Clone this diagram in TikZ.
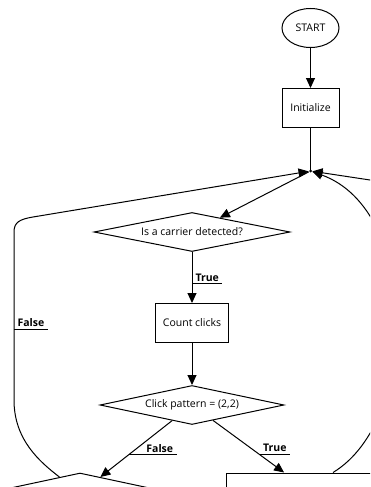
\documentclass[tikz,border=0pt]{standalone}
\usepackage{fontspec}
\setmainfont{Open Sans}
\usetikzlibrary{positioning, shapes.geometric, arrows.meta, calc}

\begin{document}
\begin{tikzpicture}[
        x=1pt, y=-1pt, line width=1pt,
        every node/.style={font=\fontsize{10.5}{12}\selectfont},
        termbox/.style={draw, ellipse, minimum width=57pt, minimum height=39pt, inner sep=0pt},
        procbox/.style={draw, rectangle, minimum height=39pt, inner sep=0pt},
        decbox/.style={draw, diamond, aspect=4.8, inner sep=0pt, minimum height=39pt},
        arrow/.style={-{Triangle[length=10pt, width=9pt]}},
        brlabel/.style={font=\fontsize{10.5}{12}\selectfont\bfseries, anchor=south west, inner xsep=3pt, inner ysep=2pt}
    ]

    \useasboundingbox (0,0) rectangle (370,487);
    \clip (0,0) rectangle (370,487);

    % Main nodes
    \node[termbox] (start) at (310.5,28) {START};
    \node[procbox, minimum width=57pt, below=40pt of start] (init) {Initialize};
    \node[circle, fill, inner sep=0pt, minimum size=3pt, outer sep=0.5pt] (hub) at (310.5,171) {};
    \node[decbox, minimum width=196pt] (carrier) at (192,232) {Is a carrier detected?};
    \node[procbox, minimum width=73pt, below=51pt of carrier] (count) {Count clicks};
    \node[decbox, minimum width=184pt, below=42pt of count] (pattern) {Click pattern = (2,2)};
    \node[decbox, minimum width=186pt, minimum height=40pt] (lowdiamond) at (80,493) {};
    \node[procbox, minimum width=172pt, minimum height=40pt] (rightbox) at (312,493) {};
    \coordinate (offright) at (372,180.3);

    % Main flow
    \draw[arrow] (start) -- (init);
    \draw (init) -- (hub.center);
    \draw[arrow] (hub) -- (carrier);
    \draw[arrow] (carrier) -- node[brlabel, pos=0.62] (t1) {True} (count);
    \draw[arrow] (count) -- (pattern);
    \draw[arrow] (pattern) -- node[brlabel, pos=0.606, text width=41pt, align=right] (f2) {False} (lowdiamond);
    \draw[arrow] (pattern) -- node[brlabel, pos=0.655] (t2) {True} (rightbox);

    % Loops back to the hub
    \draw[arrow] ($(lowdiamond.north)!0.22!(lowdiamond.west)$) .. controls (40,462) and (14,440) .. (14,400)
        -- node[brlabel, pos=0.42] (f1) {False} (14,232) .. controls (14,222) and (20,219.2) .. (33,217) -- (hub);
    \draw[arrow] ([xshift=21pt]rightbox.north) .. controls (420,420) and (420,210) .. (hub);
    \draw[arrow] (offright) -- (hub);

    % Underlines of the branch labels
    \foreach \lbl in {t1, t2, f1, f2}
        \draw (\lbl.south west) -- (\lbl.south east);

\end{tikzpicture}
\end{document}
